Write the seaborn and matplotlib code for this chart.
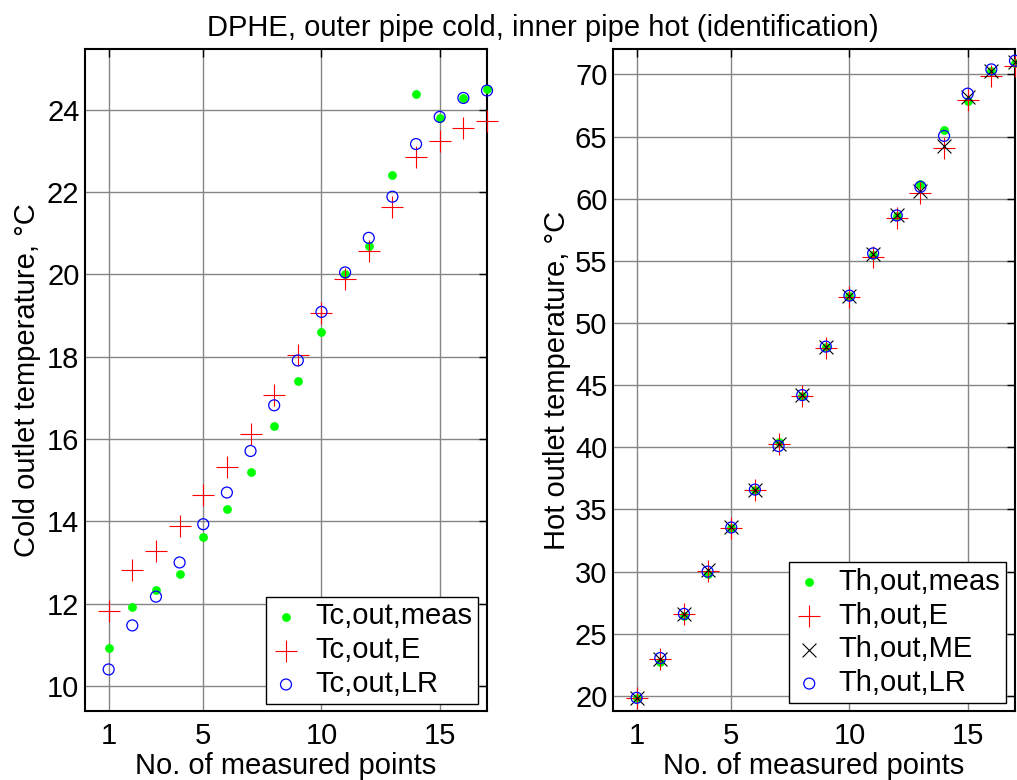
import numpy as np
import pandas as pd
import matplotlib
matplotlib.use("Agg")
import matplotlib.pyplot as plt
import seaborn as sns

# ---------------- data ----------------
points = list(range(1, 18))

tc_meas = [10.91, 11.92, 12.32, 12.71, 13.62, 14.30, 15.21, 16.31, 17.40, 18.60,
           20.01, 20.70, 22.41, 24.39, 23.80, 24.29, 24.50]
tc_E = [11.82, 12.82, 13.28, 13.88, 14.65, 15.31, 16.13, 17.08, 18.04, 19.06,
        19.89, 20.57, 21.64, 22.85, 23.25, 23.55, 23.74]
tc_LR = [10.40, 11.47, 12.17, 13.00, 13.93, 14.70, 15.71, 16.82, 17.91, 19.09,
         20.05, 20.89, 21.89, 23.17, 23.83, 24.29, 24.47]

th_meas = [19.80, 22.75, 26.45, 29.85, 33.55, 36.55, 40.45, 44.15, 48.05, 52.15,
           55.50, 58.60, 61.20, 65.55, 67.85, 70.30, 70.90]
th_E = [19.85, 23.00, 26.60, 30.05, 33.55, 36.55, 40.25, 44.10, 48.00, 52.10,
        55.30, 58.45, 60.45, 64.05, 67.95, 69.90, 70.70]
th_ME = [19.85, 23.00, 26.60, 30.10, 33.60, 36.60, 40.30, 44.20, 48.10, 52.20,
         55.55, 58.65, 60.65, 64.25, 68.20, 70.25, 71.00]
th_LR = [19.85, 23.05, 26.60, 30.00, 33.55, 36.60, 40.10, 44.20, 48.10, 52.20,
         55.60, 58.65, 60.95, 65.05, 68.45, 70.40, 71.10]

left_labels = ["Tc,out,meas", "Tc,out,E", "Tc,out,LR"]
right_labels = ["Th,out,meas", "Th,out,E", "Th,out,ME", "Th,out,LR"]
x_ticks = [1, 5, 10, 15]
left_yticks = [10, 12, 14, 16, 18, 20, 22, 24]
right_yticks = [20, 25, 30, 35, 40, 45, 50, 55, 60, 65, 70]
title = "DPHE, outer pipe cold, inner pipe hot (identification)"
xlabel = "No. of measured points"
left_ylabel = "Cold outlet temperature, \u00b0C"
right_ylabel = "Hot outlet temperature, \u00b0C"

# ---------------- style ----------------
sns.set_style("white")
plt.rcParams["font.family"] = ["Liberation Sans", "DejaVu Sans"]
plt.rcParams["text.color"] = "black"
plt.rcParams["axes.labelcolor"] = "black"
plt.rcParams["xtick.color"] = "black"
plt.rcParams["ytick.color"] = "black"
FS = 21

fig = plt.figure(figsize=(10.17, 7.8), dpi=100)
ax1 = fig.add_axes([85 / 1017, 1 - 711 / 780, 402 / 1017, 662 / 780])
ax2 = fig.add_axes([613 / 1017, 1 - 711 / 780, 402 / 1017, 662 / 780])

styles = {
    "meas": dict(marker="o", color="#00ff00", s=40, linewidth=0),
    "E": dict(marker="+", color="#ff0000", s=230, linewidth=0.8),
    "ME": dict(marker="x", color="black", s=100, linewidth=0.8),
    "LR": dict(marker="o", color="#0000ff", facecolor="none", edgecolor="#0000ff",
               s=62, linewidth=0.9),
}

def draw(ax, series, labels):
    for (key, vals), lab in zip(series, labels):
        df = pd.DataFrame({"x": points, "y": vals})
        sns.scatterplot(data=df, x="x", y="y", ax=ax, label=lab, zorder=3,
                        clip_on=False, **styles[key])

draw(ax1, [("meas", tc_meas), ("E", tc_E), ("LR", tc_LR)], left_labels)
draw(ax2, [("meas", th_meas), ("E", th_E), ("ME", th_ME), ("LR", th_LR)], right_labels)

for ax, yt, ylim, ylab in [(ax1, left_yticks, (9.39, 25.48), left_ylabel),
                           (ax2, right_yticks, (18.79, 72.04), right_ylabel)]:
    ax.set_xlim(0, 17)
    ax.set_ylim(*ylim)
    ax.set_xticks(x_ticks)
    ax.set_yticks(yt)
    ax.grid(True, color="#858585", linewidth=1.0, linestyle="-")
    ax.set_axisbelow(True)
    ax.tick_params(axis="both", direction="in", length=6, width=1.0,
                   top=True, right=True, labelsize=FS, colors="black")
    ax.tick_params(axis="x", pad=8)
    ax.tick_params(axis="y", pad=4)
    for sp in ax.spines.values():
        sp.set_color("black")
        sp.set_linewidth(1.5)
        sp.set_visible(True)
    ax.set_xlabel(xlabel, fontsize=FS, labelpad=1, color="black")
    ax.set_ylabel(ylab, fontsize=FS, color="black")

ax1.yaxis.set_label_coords(-0.11, 0.5)
ax2.yaxis.set_label_coords(-0.105, 0.5)

leg_kw = dict(fontsize=FS, frameon=True, fancybox=False, framealpha=1,
              edgecolor="black", borderaxespad=0, handlelength=1.0,
              handletextpad=0.5, labelspacing=0.2, borderpad=0.2,
              loc="lower right")
l1 = ax1.legend(bbox_to_anchor=(0.9776, 0.0106), **leg_kw)
l2 = ax2.legend(bbox_to_anchor=(0.9776, 0.012), **leg_kw)
for l in (l1, l2):
    l.get_frame().set_linewidth(1.0)
    for t in l.get_texts():
        t.set_color("black")

fig.text(543 / 1017, 1 - 36 / 780, title, ha="center", va="baseline",
         fontsize=FS, color="black")

fig.savefig("out.png", dpi=100)
